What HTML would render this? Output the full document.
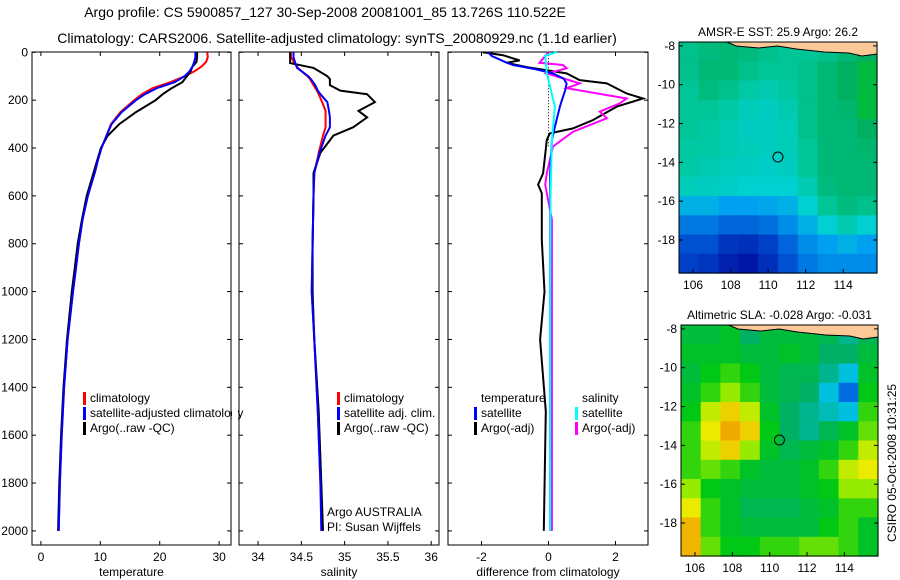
<!DOCTYPE html>
<html><head><meta charset="utf-8"><style>
body{margin:0;background:#fff;}
svg{display:block;font-family:"Liberation Sans",sans-serif;}
text{fill:#000;font-size:12px;}
</style></head><body>
<svg id="fig" width="900" height="580" viewBox="0 0 900 580" xmlns="http://www.w3.org/2000/svg">
<text x="325" y="17" text-anchor="middle" style="font-size:14px">Argo profile: CS 5900857_127 30-Sep-2008 20081001_85 13.726S 110.522E</text>
<text x="337" y="43" text-anchor="middle" style="font-size:14px">Climatology: CARS2006. Satellite-adjusted climatology: synTS_20080929.nc (1.1d earlier)</text>
<g id="layer"></g>
</svg>
<script>
// ---- profile data ----
const depths = [0,20,40,60,80,100,125,150,175,200,250,300,350,400,450,500,600,700,800,900,1000,1200,1400,1600,1800,2000];
const tempClim = [28.0,28.1,27.8,27.0,25.8,24.2,21.8,18.8,17.0,15.7,13.4,11.8,11.0,10.2,9.6,9.1,7.9,7.0,6.4,5.9,5.4,4.5,3.9,3.5,3.2,3.0];
const tempSat = [26.0,26.0,25.8,25.5,25.0,24.2,22.5,19.5,17.5,16.0,13.6,11.9,11.0,10.2,9.6,9.1,7.9,7.0,6.4,5.9,5.4,4.5,3.9,3.5,3.2,3.0];
const tempArgo = [26.3,26.3,26.2,25.5,25.2,24.6,23.8,22.0,20.5,19.3,16.0,13.2,11.2,10.1,9.5,8.9,7.7,6.9,6.2,5.7,5.2,4.4,3.8,3.4,3.1,2.9];
const salDepths = [0,20,45,65,100,112,137,160,175,208,245,272,313,348,420,505,600,800,1000,1200,1500,1800,2000];
const salClim = [34.38,34.38,34.42,34.46,34.57,34.60,34.64,34.68,34.70,34.74,34.78,34.78,34.78,34.75,34.70,34.65,34.64,34.63,34.62,34.65,34.69,34.72,34.74];
const salSat = [34.41,34.41,34.43,34.45,34.58,34.61,34.66,34.69,34.72,34.80,34.82,34.83,34.83,34.78,34.71,34.65,34.64,34.63,34.62,34.65,34.69,34.72,34.73];
const salArgo = [34.37,34.37,34.37,34.64,34.80,34.83,34.83,34.95,35.26,35.35,35.16,35.26,35.10,34.87,34.72,34.64,34.64,34.63,34.63,34.65,34.70,34.73,34.75];
const tdDepths = [0,15,40,53,70,88,110,130,157,200,227,311,366,506,1000,1500,2000];
const tdSat = [-1.8,-1.7,-1.3,-1.06,-0.4,0.13,0.45,0.54,0.5,0.4,0.34,0.19,0.1,0.05,0.05,0.05,0.05];
const taDepths = [0,12,34,44,62,88,116,130,172,193,227,283,318,339,366,506,553,589,784,1000,1200,1500,2000];
const tdArgo = [-1.96,-1.36,-0.86,-1.25,-0.65,0.54,0.93,1.74,2.33,2.82,2.04,1.33,0.73,0.04,-0.05,-0.16,-0.31,-0.2,-0.2,-0.12,-0.25,-0.08,-0.14];
const sdDepths = [0,14,88,227,366,600,1000,1500,2000];
const sdSat = [0.24,-0.1,-0.05,0.19,0.1,0.06,0.05,0.05,0.05];
const saDepths = [0,44,53,67,88,130,150,193,213,248,276,332,394,506,553,700,1000,1500,2000];
const sdArgo = [0,-0.27,0.43,0.54,-0.05,0.93,0.54,2.33,2.13,1.53,1.74,0.73,0.13,-0.05,-0.1,0.1,0.1,0.1,0.1];
const depthTicks = [0,200,400,600,800,1000,1200,1400,1600,1800,2000];
const tempTicks = [0,10,20,30];
const salTicks = [34,34.5,35,35.5,36];
const diffTicks = [-2,0,2];
// ---- map data ----
const sstGrid = [
[.75,.78,.8,.78,.75,.72,.72,.75,.8,.85],
[.75,.8,.8,.75,.72,.72,.75,.8,.85,.9],
[.72,.78,.75,.68,.65,.7,.75,.8,.85,.9],
[.72,.72,.68,.62,.6,.65,.75,.8,.82,.9],
[.72,.7,.65,.6,.6,.62,.75,.8,.8,.85],
[.7,.68,.65,.62,.6,.62,.72,.8,.8,.82],
[.68,.65,.62,.6,.58,.6,.72,.8,.8,.8],
[.62,.6,.58,.55,.55,.55,.65,.78,.8,.8],
[.45,.45,.4,.4,.42,.45,.55,.72,.78,.75],
[.3,.3,.25,.25,.28,.35,.45,.55,.65,.55],
[.2,.2,.12,.1,.15,.25,.35,.4,.45,.4],
[.15,.12,.05,.02,.1,.2,.3,.35,.35,.35]];
const slaGrid = [
[.45,.45,.5,.35,.45,.45,.45,.4,.3,.4],
[.5,.5,.5,.45,.45,.5,.45,.35,.35,.45],
[.45,.55,.6,.55,.45,.4,.4,.3,.2,.5],
[.5,.6,.7,.6,.45,.4,.35,.2,.05,.55],
[.55,.75,.85,.75,.5,.35,.3,.25,.2,.6],
[.6,.8,.92,.85,.55,.35,.3,.4,.5,.65],
[.6,.75,.85,.7,.5,.4,.45,.5,.6,.75],
[.6,.65,.6,.5,.45,.45,.5,.6,.75,.8],
[.7,.55,.5,.45,.45,.45,.5,.55,.7,.7],
[.8,.6,.5,.4,.4,.4,.45,.5,.6,.6],
[.9,.6,.5,.45,.45,.45,.45,.55,.6,.5],
[.9,.65,.55,.55,.6,.6,.65,.65,.6,.5]];
const lonTicks = [106,108,110,112,114];
const latTicks = [-8,-10,-12,-14,-16,-18];
const argoLon = 110.522, argoLat = -13.726;

const NS = "http://www.w3.org/2000/svg";
const L = document.getElementById('layer');
function mk(tag, attrs, parent){const e=document.createElementNS(NS,tag);for(const k in attrs)e.setAttribute(k,attrs[k]);(parent||L).appendChild(e);return e;}
function txt(s,x,y,anchor,parent){const t=mk('text',{x:x,y:y,'text-anchor':anchor||'start'},parent);t.textContent=s;return t;}

const yTop=52, yBot=545;
const yD = d => 52.3 + d*0.2393;
const panels = [
 {name:'temperature',x0:32,x1:231,lo:-1.5,hi:32,ticks:tempTicks,label:'temperature'},
 {name:'salinity',x0:239,x1:439,lo:33.78,hi:36.09,ticks:salTicks,label:'salinity'},
 {name:'difference',x0:448,x1:648,lo:-3,hi:2.97,ticks:diffTicks,label:'difference from climatology'}];
panels.forEach(p=>{p.sx=v=>p.x0+(v-p.lo)/(p.hi-p.lo)*(p.x1-p.x0);});

function line(p,ds,vs,color,name,w){
  const g=mk('polyline',{points:ds.map((d,i)=>p.sx(vs[i]).toFixed(1)+','+yD(d).toFixed(1)).join(' '),fill:'none',stroke:color,'stroke-width':w||2});
  
  
}
panels.forEach((p,pi)=>{
  const g=mk('g',{});
  
  
  const r=mk('rect',{x:p.x0,y:yTop,width:p.x1-p.x0,height:yBot-yTop,fill:'none',stroke:'#000','stroke-width':1},g);
  
  
  depthTicks.forEach(d=>{const y=yD(d);
    mk('line',{x1:p.x0,y1:y,x2:p.x0+4,y2:y,stroke:'#000'},g);
    mk('line',{x1:p.x1,y1:y,x2:p.x1-4,y2:y,stroke:'#000'},g);
    if(pi===0){const t=txt(String(d),p.x0-4,y+4,'end',g);
      
      }
  });
  p.ticks.forEach(v=>{const x=p.sx(v);
    mk('line',{x1:x,y1:yBot,x2:x,y2:yBot-4,stroke:'#000'},g);
    mk('line',{x1:x,y1:yTop,x2:x,y2:yTop+4,stroke:'#000'},g);
    const t=txt(String(v),x,561,'middle',g);
    
    
  });
  const xl=txt(p.label,(p.x0+p.x1)/2,576,'middle',g);
  
  
});
const [P1,P2,P3]=panels;
line(P1,depths,tempClim,'#f00','temp-climatology-line');
line(P1,depths,tempArgo,'#000','temp-argo-line');
line(P1,depths,tempSat,'#00f','temp-satellite-line');
line(P2,salDepths,salClim,'#f00','sal-climatology-line');
line(P2,salDepths,salArgo,'#000','sal-argo-line');
line(P2,salDepths,salSat,'#00f','sal-satellite-line');
const zl=mk('line',{x1:P3.sx(0),y1:yD(0),x2:P3.sx(0),y2:yD(400),stroke:'#000','stroke-dasharray':'1,2'});


line(P3,taDepths,tdArgo,'#000','temp-diff-argo-line');
line(P3,saDepths,sdArgo,'#f0f','sal-diff-argo-line');
line(P3,tdDepths,tdSat,'#00f','temp-diff-satellite-line');
line(P3,sdDepths,sdSat,'#0ff','sal-diff-satellite-line');

function legend(items,x,y){items.forEach((it,i)=>{const yy=y+i*15;
  if(it[1]){const b=mk('rect',{x:x,y:yy-10,width:3,height:13,fill:it[1]});
    
    }
  const t=txt(it[0],x+7,yy,'start');
  
  });}
legend([['climatology','#f00'],['satellite-adjusted climatology','#00f'],['Argo(..raw -QC)','#000']],83,402);
legend([['climatology','#f00'],['satellite adj. clim.','#00f'],['Argo(..raw -QC)','#000']],337,402);
legend([['temperature',null],['satellite','#00f'],['Argo(-adj)','#000']],474,402);
legend([['salinity',null],['satellite','#0ff'],['Argo(-adj)','#f0f']],575,402);
const cover=mk('rect',{x:232,y:400,width:6,height:20,fill:'#fff'});


const a1=txt('Argo AUSTRALIA',327,516);


const a2=txt('PI: Susan Wijffels',327,531);



// ---- maps ----
function lerpColor(stops,v){v=Math.max(0,Math.min(1,v));for(let i=1;i<stops.length;i++){if(v<=stops[i][0]){const a=stops[i-1],b=stops[i],t=(v-a[0])/(b[0]-a[0]);const c=[0,1,2].map(k=>Math.round(a[1][k]+(b[1][k]-a[1][k])*t));return 'rgb('+c.join(',')+')';}}return 'rgb('+stops[stops.length-1][1].join(',')+')';}
const sstStops=[[0,[0,16,160]],[0.2,[0,80,210]],[0.4,[0,160,240]],[0.55,[0,208,208]],[0.7,[0,200,160]],[0.85,[0,176,96]],[1,[0,208,0]]];
const slaStops=[[0,[0,80,224]],[0.2,[0,192,224]],[0.35,[0,176,100]],[0.55,[0,200,20]],[0.7,[150,235,0]],[0.8,[235,235,0]],[0.92,[240,170,0]],[1,[240,130,0]]];
function drawMap(cfg){
  const g=mk('g',{});
  
  
  const {x0,x1,y0,y1,grid,stops}=cfg;
  const lonLo=105.25,lonHi=115.8,latHi=-7.8,latLo=-19.7;
  const sx=lo=>x0+(lo-lonLo)/(lonHi-lonLo)*(x1-x0);
  const sy=la=>y0+(latHi-la)/(latHi-latLo)*(y1-y0);
  const rows=grid.length,cols=grid[0].length,cw=(x1-x0)/cols,ch=(y1-y0)/rows;
  grid.forEach((row,r)=>row.forEach((v,c)=>{
    const cell=mk('rect',{x:(x0+c*cw).toFixed(1),y:(y0+r*ch).toFixed(1),width:(cw+0.6).toFixed(1),height:(ch+0.6).toFixed(1),fill:lerpColor(stops,v)},g);
    
    
  }));
  const land=mk('path',{d:`M${sx(107.8)},${y0} L${sx(108.3)},${y0+4} L${sx(109.5)},${y0+6} L${sx(110.5)},${y0+4} L${sx(111.5)},${y0+7} L${sx(113)},${y0+10} L${sx(114.3)},${y0+11} L${sx(115)},${y0+14} L${x1},${y0+12} L${x1},${y0} Z`,fill:'#fcc898',stroke:'#000','stroke-width':1},g);
  
  
  const box=mk('rect',{x:x0,y:y0,width:x1-x0,height:y1-y0,fill:'none',stroke:'#000'},g);
  
  
  lonTicks.forEach(lo=>{const x=sx(lo);mk('line',{x1:x,y1:y1,x2:x,y2:y1-4,stroke:'#000'},g);
    const t=txt(String(lo),x,cfg.lonLabelY,'middle',g);
    
    });
  latTicks.forEach(la=>{const y=sy(la);mk('line',{x1:x0,y1:y,x2:x0+4,y2:y,stroke:'#000'},g);mk('line',{x1:x1,y1:y,x2:x1-4,y2:y,stroke:'#000'},g);
    const t=txt(String(la),x0-4,y+4,'end',g);
    
    });
  const c=mk('circle',{cx:sx(argoLon),cy:sy(argoLat),r:5,fill:'none',stroke:'#000'},g);
  
  
  const tt=txt(cfg.title,(x0+x1)/2,y0-6,'middle',g);
  
  
}
drawMap({name:'sst-map',x0:679,x1:877,y0:42,y1:273,grid:sstGrid,stops:sstStops,lonLabelY:289,title:'AMSR-E SST: 25.9 Argo: 26.2'});
drawMap({name:'sla-map',x0:681,x1:878,y0:325,y1:556,grid:slaGrid,stops:slaStops,lonLabelY:572,title:'Altimetric SLA: -0.028 Argo: -0.031'});
const stamp=txt('CSIRO 05-Oct-2008 10:31:25',0,0,'middle');
stamp.setAttribute('transform','translate(896,463) rotate(-90)');


</script>
</body></html>
